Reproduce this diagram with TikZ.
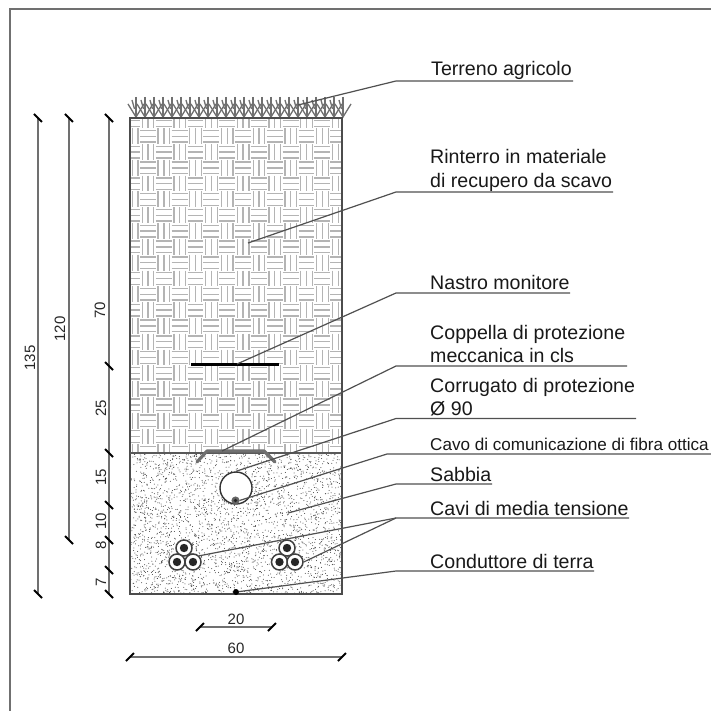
\documentclass[tikz,border=0pt]{standalone}
\usepackage{fontspec}
\setmainfont{Liberation Sans}
\definecolor{framec}{HTML}{707070}
\definecolor{hatchc}{HTML}{B4B4B4}
\definecolor{leadc}{HTML}{505050}
\tikzset{
  lab/.style={anchor=base west,inner sep=0pt,font=\fontsize{19.6}{22}\selectfont,text=black!90},
  smalllab/.style={anchor=base west,inner sep=0pt,font=\fontsize{17.1}{18}\selectfont,text=black!90},
  dimlab/.style={inner sep=0pt,font=\fontsize{15}{18}\selectfont,text=black!85},
  leader/.style={draw=leadc,line width=1.2pt},
  dimline/.style={draw=framec,line width=1.5pt},
  tick/.style={draw=black,line width=1.8pt},
  hatchline/.style={draw=hatchc,line width=1.3pt},
  grassline/.style={draw=framec,line width=1.3pt},
  cable/.style={draw=black!75,fill=white,line width=1.5pt},
}
\begin{document}
\begin{tikzpicture}[x=1pt,y=-1pt]
\useasboundingbox (0,0) rectangle (711,711);
\fill[white] (0,0) rectangle (711,711);
% frame
\draw[draw=framec,line width=2pt] (10,711) -- (10,9.5) -- (711,9.5);
% parquet hatch
\begin{scope}
\clip (130,118) rectangle (342,453);
\foreach \i in {-1,...,13}{
  \foreach \k in {-1,...,21}{
    \pgfmathsetmacro\cx{140+15.85*\i}
    \pgfmathsetmacro\cy{128.3+15.8*\k}
    \pgfmathtruncatemacro\parity{mod(\i+\k+100,2)}
    \ifnum\parity=0
      \foreach \o in {2.2,8,13.8}{\draw[hatchline] (\cx,\cy+\o) -- (\cx+15.85,\cy+\o);}
    \else
      \foreach \o in {2.2,8,13.8}{\draw[hatchline] (\cx+\o,\cy) -- (\cx+\o,\cy+15.8);}
    \fi
  }
}
\end{scope}
% sand
\pgfmathsetseed{4242}
\foreach \n in {1,...,3000}{
  \pgfmathsetmacro\a{130.5+211*rnd}
  \pgfmathsetmacro\b{453+141*rnd}
  \fill[black!75] (\a,\b) circle (0.5);
}
% grass
\foreach \i in {0,...,23}{
  \pgfmathsetmacro\gx{136+9*\i}
  \draw[grassline] (\gx,97) -- (\gx,116);
  \draw[grassline] (\gx-8,104) -- (\gx,117) -- (\gx+8,104);
  \draw[grassline] (\gx-4,100) -- (\gx-1.5,109);
}
% section outlines
\draw[draw=black!70,line width=1.6pt] (130,118) rectangle (342,594);
\draw[draw=black!65,line width=1.8pt] (130,453) -- (342,453);
% objects
\draw[draw=black,line width=3.6pt] (191,364.5) -- (279,364.5);
\draw[draw=framec,line width=3.2pt,line cap=round,line join=round] (197,462) -- (207,451) -- (264,451) -- (275,462);
\node[circle,draw=black!80,fill=white,line width=1.4pt,minimum size=32pt,inner sep=0pt] (corr) at (236,488) {};
\node[circle,draw=black!60,fill=black!60,line width=1pt,minimum size=7pt,inner sep=0pt] (fibra) at (235.5,500.5) {};
\fill[black!85] (fibra) circle (1.8);
\foreach \nm/\px/\py in {a1/184/548,a2/177/562,a3/193/562,b1/287/548,b2/279.5/562,b3/295/562}{
  \node[circle,cable,minimum size=16pt,inner sep=0pt] (\nm) at (\px,\py) {};
  \fill[black!85] (\nm) circle (4.2);
}
\node[circle,fill=black,minimum size=6pt,inner sep=0pt] (terra) at (236,592) {};
% labels
\node[lab] (terreno) at (431,76) {Terreno agricolo};
\node[lab] (rint1) at (430,164) {Rinterro in materiale};
\node[lab] (rint2) at (430,188) {di recupero da scavo};
\node[lab] (nastro) at (430,289) {Nastro monitore};
\node[lab] (copp1) at (430,339) {Coppella di protezione};
\node[lab] (copp2) at (430,362) {meccanica in cls};
\node[lab] (corr1) at (430,392) {Corrugato di protezione};
\node[lab] (corr2) at (430,415) {Ø 90};
\node[smalllab] (cavo) at (430,450) {Cavo di comunicazione di fibra ottica};
\node[lab] (sabbia) at (430,481) {Sabbia};
\node[lab] (cavi) at (430,515) {Cavi di media tensione};
\node[lab] (cond) at (430,568) {Conduttore di terra};
% leader coordinates
\coordinate (tk) at (396,81); \coordinate (te) at (573,81); \coordinate (tt) at (298,105);
\coordinate (rk) at (396,192); \coordinate (re) at (613,192); \coordinate (rt) at (248,243);
\coordinate (nk) at (396,293); \coordinate (ne) at (570,293); \coordinate (nt) at (237,364);
\coordinate (ck) at (396,366); \coordinate (ce) at (627,366); \coordinate (ct) at (222,451);
\coordinate (ok) at (396,418.5); \coordinate (oe) at (636,418.5);
\coordinate (fk) at (387,454); \coordinate (fe) at (711,454);
\coordinate (sk) at (396,484); \coordinate (se) at (492,484); \coordinate (st) at (288,513);
\coordinate (mk) at (396,518); \coordinate (me) at (629,518);
\coordinate (gk) at (396,571); \coordinate (ge) at (594,571);
\draw[leader] (tt) -- (tk) -- (te);
\draw[leader] (rt) -- (rk) -- (re);
\draw[leader] (nt) -- (nk) -- (ne);
\draw[leader] (ct) -- (ck) -- (ce);
\draw[leader] (corr.north) -- (ok) -- (oe);
\draw[leader] (fibra.east) -- (fk) -- (fe);
\draw[leader] (st) -- (sk) -- (se);
\draw[leader] (a3.north east) -- (mk) -- (me);
\draw[leader] (b3.east) -- (mk);
\draw[leader] (terra) -- (gk) -- (ge);
% vertical dimensions
\foreach \na/\dx/\ya/\yb in {d1/38/118/594,d2/69/118/540}{
  \coordinate (\na a) at (\dx,\ya); \coordinate (\na b) at (\dx,\yb);
  \draw[dimline] (\na a) -- (\na b);
  \draw[tick] ([shift={(-4,-4)}]\na a) -- ([shift={(4,4)}]\na a);
  \draw[tick] ([shift={(-4,-4)}]\na b) -- ([shift={(4,4)}]\na b);
}
\coordinate (d3a) at (109,118); \coordinate (d3b) at (109,594);
\draw[dimline] (d3a) -- (d3b);
\foreach \yy in {118,366,453,505,540,570,594}{
  \coordinate (dt) at (109,\yy);
  \draw[tick] ([shift={(-4,-4)}]dt) -- ([shift={(4,4)}]dt);
}
\node[dimlab,rotate=90] (n135) at (30,358) {135};
\node[dimlab,rotate=90] (n120) at (60,329) {120};
\node[dimlab,rotate=90] (n70) at (100,310) {70};
\node[dimlab,rotate=90] (n25) at (101,408) {25};
\node[dimlab,rotate=90] (n15) at (101,477) {15};
\node[dimlab,rotate=90] (n10) at (101,521) {10};
\node[dimlab,rotate=90] (n8) at (101,545) {8};
\node[dimlab,rotate=90] (n7) at (101,582) {7};
% horizontal dimensions
\foreach \na/\xa/\xb/\yy in {h1/200/272/627,h2/130/342/657}{
  \coordinate (\na a) at (\xa,\yy); \coordinate (\na b) at (\xb,\yy);
  \draw[dimline] (\na a) -- (\na b);
  \draw[tick] ([shift={(-4,4)}]\na a) -- ([shift={(4,-4)}]\na a);
  \draw[tick] ([shift={(-4,4)}]\na b) -- ([shift={(4,-4)}]\na b);
}
\node[dimlab] (n20) at (236,619) {20};
\node[dimlab] (n60) at (236,648) {60};
\end{tikzpicture}
\end{document}
